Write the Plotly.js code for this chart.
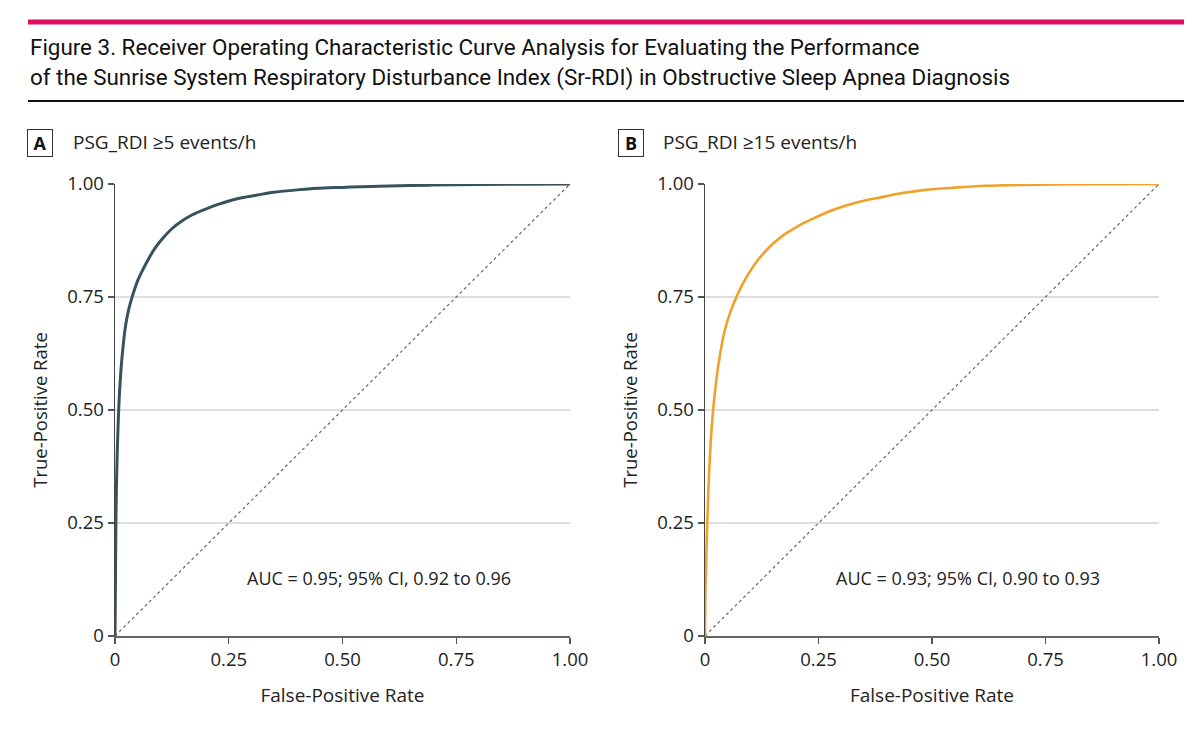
<!DOCTYPE html>
<html>
<head>
<meta charset="utf-8">
<script src="https://cdn.plot.ly/plotly-3.0.1.min.js"></script>
<style>html,body{margin:0;padding:0;background:#fff;}#chart{width:1200px;height:748px;}</style>
</head>
<body>
<div id="chart"></div>
<script>
// ROC curve A: PSG_RDI >=5 events/h
const fprA = [0, 0.0005, 0.001, 0.002, 0.003, 0.005, 0.0073, 0.010, 0.014, 0.018, 0.023, 0.030, 0.037, 0.044, 0.051, 0.062, 0.073, 0.088, 0.106, 0.125, 0.147, 0.170, 0.198, 0.23, 0.271, 0.31, 0.344, 0.40, 0.484, 0.58, 0.692, 0.80, 0.90, 1.0];
const tprA = [0, 0.06, 0.12, 0.25, 0.32, 0.41, 0.48, 0.54, 0.60, 0.643, 0.685, 0.722, 0.748, 0.770, 0.789, 0.812, 0.833, 0.858, 0.881, 0.901, 0.918, 0.932, 0.944, 0.956, 0.968, 0.975, 0.981, 0.987, 0.992, 0.995, 0.9975, 0.9988, 0.9996, 1.0];
// ROC curve B: PSG_RDI >=15 events/h
const fprB = [0, 0.001, 0.003, 0.005, 0.007, 0.009, 0.013, 0.017, 0.021, 0.026, 0.034, 0.044, 0.056, 0.070, 0.082, 0.095, 0.112, 0.132, 0.152, 0.176, 0.205, 0.235, 0.27, 0.309, 0.35, 0.390, 0.435, 0.485, 0.55, 0.62, 0.70, 0.77, 0.88, 1.0];
const tprB = [0, 0.10, 0.18, 0.25, 0.31, 0.36, 0.435, 0.49, 0.53, 0.575, 0.628, 0.678, 0.717, 0.752, 0.777, 0.80, 0.826, 0.850, 0.870, 0.889, 0.907, 0.922, 0.938, 0.952, 0.963, 0.971, 0.980, 0.987, 0.992, 0.996, 0.998, 0.999, 0.9997, 1.0];
// Reference (chance) line
const diagX = [0, 1];
const diagY = [0, 1];
// Ticks
const tickVals = [0, 0.25, 0.5, 0.75, 1];
const tickText = ["0", "0.25", "0.50", "0.75", "1.00"];
// Texts
const figTitle1 = "Figure 3. Receiver Operating Characteristic Curve Analysis for Evaluating the Performance";
const figTitle2 = "of the Sunrise System Respiratory Disturbance Index (Sr-RDI) in Obstructive Sleep Apnea Diagnosis";
const panelLetters = ["A", "B"];
const panelTitles = ["PSG_RDI ≥5 events/h", "PSG_RDI ≥15 events/h"];
const aucTexts = ["AUC = 0.95; 95% CI, 0.92 to 0.96", "AUC = 0.93; 95% CI, 0.90 to 0.93"];

const W = 1200, H = 748;
const px = x => x / W;
const py = y => 1 - y / H;

const bodyFam = "Open Sans, DejaVu Sans, sans-serif";
const tickFont = {family: bodyFam, size: 18.5, color: "#222"};
const titleFontFam = "Roboto, sans-serif";

function axisX(domain, anchor) {
  return {
    domain: domain, anchor: anchor, range: [0, 1], tickvals: tickVals, ticktext: tickText,
    ticks: "outside", ticklen: 6, tickwidth: 1.2, tickcolor: "#555",
    showline: true, linecolor: "#666", linewidth: 2, showgrid: false, zeroline: false,
    tickfont: tickFont, fixedrange: true,
    title: {text: "False-Positive Rate", font: {family: bodyFam, size: 19, color: "#222"}, standoff: 18}
  };
}
function axisY(domain, anchor) {
  return {
    domain: domain, anchor: anchor, range: [0, 1], tickvals: tickVals, ticktext: tickText,
    ticks: "outside", ticklen: 6, tickwidth: 1.2, tickcolor: "#555",
    showline: true, linecolor: "#444", linewidth: 1.5, showgrid: true, gridcolor: "#dedede", gridwidth: 1.5,
    zeroline: false, tickfont: tickFont, fixedrange: true,
    title: {text: "True-Positive Rate", font: {family: bodyFam, size: 18.5, color: "#222"}, standoff: 14}
  };
}

const yDom = [py(636), py(184)];
const data = [
  {x: diagX, y: diagY, xaxis: "x", yaxis: "y", mode: "lines", line: {color: "#666", width: 1.2, dash: "dot"}, hoverinfo: "skip"},
  {x: fprA, y: tprA, xaxis: "x", yaxis: "y", mode: "lines", line: {color: "#37525c", width: 3, shape: "spline", smoothing: 1}},
  {x: diagX, y: diagY, xaxis: "x2", yaxis: "y2", mode: "lines", line: {color: "#666", width: 1.2, dash: "dot"}, hoverinfo: "skip"},
  {x: fprB, y: tprB, xaxis: "x2", yaxis: "y2", mode: "lines", line: {color: "#f0a12a", width: 2.6, shape: "spline", smoothing: 1}}
];

const layout = {
  width: W, height: H, showlegend: false,
  margin: {l: 0, r: 0, t: 0, b: 0},
  paper_bgcolor: "#fff", plot_bgcolor: "#fff",
  xaxis: axisX([px(115), px(570)], "y"),
  yaxis: axisY(yDom, "x"),
  xaxis2: axisX([px(705), px(1159)], "y2"),
  yaxis2: axisY(yDom, "x2"),
  shapes: [
    {type: "line", xref: "paper", yref: "paper", x0: px(28), x1: px(1184), y0: py(22), y1: py(22), line: {color: "#dc0e5f", width: 5}},
    {type: "line", xref: "paper", yref: "paper", x0: px(28), x1: px(1184), y0: py(101), y1: py(101), line: {color: "#111", width: 2}}
  ],
  annotations: [
    {text: figTitle1, xref: "paper", yref: "paper", x: px(28), y: py(47), xanchor: "left", yanchor: "middle", showarrow: false, font: {family: titleFontFam, size: 22.4, color: "#111"}},
    {text: figTitle2, xref: "paper", yref: "paper", x: px(28), y: py(78), xanchor: "left", yanchor: "middle", showarrow: false, font: {family: titleFontFam, size: 22.4, color: "#111"}},
    {text: "<b>" + panelLetters[0] + "</b>", xref: "paper", yref: "paper", x: px(40), y: py(143), xanchor: "center", yanchor: "middle", showarrow: false, bordercolor: "#333", borderwidth: 1, borderpad: 3, width: 18, height: 20, font: {family: bodyFam, size: 18, color: "#111"}},
    {text: panelTitles[0], xref: "paper", yref: "paper", x: px(71), y: py(142), xanchor: "left", yanchor: "middle", showarrow: false, font: {family: bodyFam, size: 19, color: "#222"}},
    {text: "<b>" + panelLetters[1] + "</b>", xref: "paper", yref: "paper", x: px(631), y: py(143), xanchor: "center", yanchor: "middle", showarrow: false, bordercolor: "#333", borderwidth: 1, borderpad: 3, width: 18, height: 20, font: {family: bodyFam, size: 18, color: "#111"}},
    {text: panelTitles[1], xref: "paper", yref: "paper", x: px(661), y: py(142), xanchor: "left", yanchor: "middle", showarrow: false, font: {family: bodyFam, size: 19, color: "#222"}},
    {text: aucTexts[0], xref: "x", yref: "y", x: 0.58, y: 0.128, xanchor: "center", yanchor: "middle", showarrow: false, font: {family: bodyFam, size: 18, color: "#222"}},
    {text: aucTexts[1], xref: "x2", yref: "y2", x: 0.58, y: 0.128, xanchor: "center", yanchor: "middle", showarrow: false, font: {family: bodyFam, size: 18, color: "#222"}}
  ]
};

Plotly.newPlot("chart", data, layout, {staticPlot: true, displayModeBar: false});
</script>
</body>
</html>
